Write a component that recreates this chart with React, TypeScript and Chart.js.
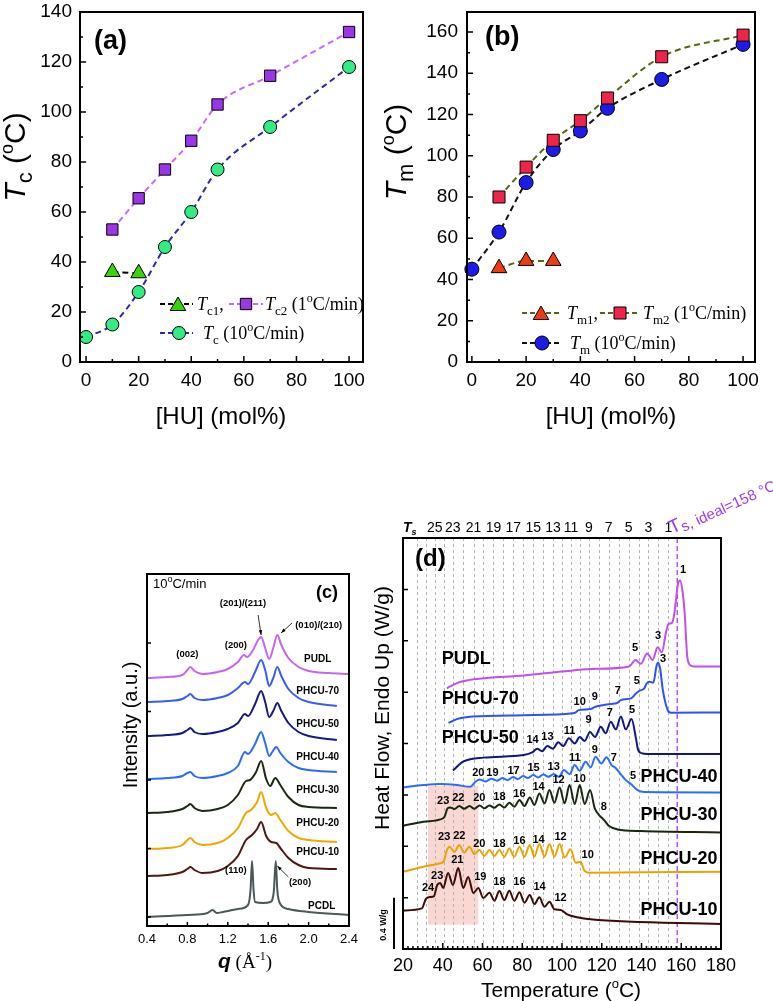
import React, { useEffect, useRef } from "react";
import { Chart, registerables } from "chart.js";

Chart.register(...registerables);

const SANS = "'Liberation Sans', Arial, Helvetica, sans-serif";
const SERIF = "'Liberation Serif', 'Times New Roman', Times, serif";

// ---------- (a) crystallization temperature vs. HU content ----------
const HU_TC1 = [10, 20];
const TC1 = [36, 35.5];
const HU_TC2 = [10, 20, 30, 40, 50, 70, 100];
const TC2 = [53, 65.5, 77, 88.5, 103, 114.5, 132];
const HU_TC = [0, 10, 20, 30, 40, 50, 70, 100];
const TC = [10, 15, 28, 46, 60, 77, 94, 118];

// ---------- (b) melting temperature vs. HU content ----------
const HU_TM1 = [10, 20, 30];
const TM1 = [45.5, 49, 49];
const HU_TM2 = [10, 20, 30, 40, 50, 70, 100];
const TM2 = [80, 94.5, 107.5, 117, 128, 148, 158.5];
const HU_TM = [0, 10, 20, 30, 40, 50, 70, 100];
const TM = [45, 63, 87, 103, 112, 123, 137, 154];

const HU_TICKS = [0, 20, 40, 60, 80, 100];
const HU_MINOR = [10, 30, 50, 70, 90];
const TC_TICKS = [0, 20, 40, 60, 80, 100, 120, 140];
const TM_TICKS = [0, 20, 40, 60, 80, 100, 120, 140, 160];

// ---------- (c) WAXS profiles, q (1/Å) vs. intensity (a.u., stacked) ----------
type Pair = [number, number];
const WAXS_PUDL: Pair[] = [
  [0.4, 248], [0.6, 249], [0.75, 251], [0.8, 256], [0.83, 259], [0.87, 255], [0.95, 252], [1.1, 254],
  [1.2, 257], [1.3, 264], [1.36, 271], [1.39, 269], [1.45, 276], [1.5, 286], [1.53, 289], [1.57, 278],
  [1.61, 267], [1.65, 278], [1.69, 291], [1.73, 281], [1.8, 268], [1.9, 259], [2.0, 255], [2.2, 253], [2.4, 252],
];
const WAXS_70: Pair[] = [
  [0.4, 224], [0.6, 225], [0.75, 227], [0.8, 230], [0.83, 232], [0.87, 228], [0.95, 226], [1.1, 228],
  [1.2, 231], [1.3, 238], [1.37, 244], [1.4, 242], [1.47, 254], [1.53, 266], [1.57, 256], [1.61, 240],
  [1.65, 248], [1.69, 259], [1.73, 250], [1.8, 237], [1.9, 228], [2.0, 224], [2.28, 220],
];
const WAXS_50: Pair[] = [
  [0.4, 190], [0.6, 191], [0.75, 193], [0.8, 196], [0.83, 198], [0.87, 194], [0.95, 192], [1.1, 194],
  [1.2, 197], [1.3, 203], [1.37, 212], [1.4, 210], [1.47, 222], [1.53, 235], [1.57, 224], [1.61, 209],
  [1.65, 215], [1.69, 223], [1.73, 215], [1.8, 203], [1.9, 194], [2.0, 190], [2.28, 186],
];
const WAXS_40: Pair[] = [
  [0.4, 147], [0.6, 148], [0.75, 150], [0.8, 153], [0.83, 154], [0.87, 150], [0.95, 148], [1.1, 150],
  [1.2, 153], [1.3, 160], [1.37, 174], [1.4, 172], [1.47, 182], [1.53, 194], [1.57, 183], [1.61, 170],
  [1.64, 174], [1.68, 179], [1.72, 173], [1.8, 164], [1.9, 158], [2.0, 156], [2.28, 154],
];
const WAXS_30: Pair[] = [
  [0.4, 113], [0.6, 114], [0.75, 117], [0.8, 120], [0.83, 122], [0.87, 118], [0.95, 115], [1.1, 117],
  [1.2, 121], [1.3, 131], [1.38, 145], [1.42, 146], [1.48, 154], [1.53, 165], [1.58, 147], [1.62, 140],
  [1.67, 148], [1.72, 141], [1.8, 129], [1.9, 121], [2.0, 119], [2.28, 118],
];
const WAXS_20: Pair[] = [
  [0.4, 77], [0.6, 78], [0.75, 81], [0.8, 86], [0.83, 88], [0.87, 84], [0.95, 81], [1.1, 83],
  [1.2, 88], [1.3, 98], [1.38, 113], [1.43, 116], [1.49, 124], [1.53, 134], [1.58, 118], [1.63, 111],
  [1.67, 113], [1.72, 106], [1.8, 95], [1.9, 88], [2.0, 86], [2.28, 84],
];
const WAXS_10: Pair[] = [
  [0.4, 50], [0.6, 51], [0.75, 54], [0.8, 57], [0.83, 59], [0.87, 56], [0.95, 53], [1.1, 55],
  [1.2, 60], [1.3, 70], [1.38, 86], [1.44, 91], [1.49, 97], [1.53, 104], [1.58, 90], [1.63, 84],
  [1.68, 83], [1.72, 78], [1.8, 68], [1.9, 61], [2.0, 58], [2.28, 57],
];
const WAXS_PCDL: Pair[] = [
  [0.4, 9], [0.8, 11], [1.0, 13], [1.05, 16], [1.09, 13], [1.15, 14], [1.2, 15], [1.3, 17], [1.4, 21],
  [1.425, 36], [1.44, 65], [1.455, 36], [1.47, 24], [1.55, 23], [1.62, 24], [1.655, 34], [1.675, 65],
  [1.69, 36], [1.72, 22], [1.8, 17], [2.0, 14], [2.4, 11],
];
const Q_TICKS = [0.4, 0.8, 1.2, 1.6, 2.0, 2.4];
const Q_MINOR = [0.6, 1.0, 1.4, 1.8, 2.2];
const INT_TICKS = [9, 77.5, 146, 214.5, 283];

// ---------- (d) DSC heating traces, temperature (°C) vs. heat flow (W/g, offset) ----------
const DSC_PUDL: Pair[] = [
  [42.1, 2.03], [47.1, 2.07], [55.5, 2.1], [80.8, 2.13], [100, 2.16], [114.5, 2.18], [133.8, 2.2],
  [137.0, 2.25], [139.7, 2.22], [142.8, 2.3], [145.6, 2.25], [148.1, 2.35], [150.2, 2.31], [152.5, 2.48],
  [153.6, 2.53], [155.4, 2.54], [156.6, 2.62], [158.3, 2.84], [159.4, 2.87], [160.5, 2.8], [161.7, 2.62],
  [163.0, 2.28], [164.5, 2.21], [166.5, 2.2], [180, 2.2],
];
const DSC_70: Pair[] = [
  [42.9, 1.76], [47.1, 1.79], [55, 1.81], [80.8, 1.82], [105.5, 1.835], [106.7, 1.84], [108.4, 1.86],
  [114.3, 1.868], [116.8, 1.886], [124.5, 1.907], [127.9, 1.917], [129.6, 1.938], [134.7, 1.951],
  [137.2, 1.989], [138.9, 2.01], [141.4, 2.03], [142.5, 2.065], [144.0, 2.08], [146.0, 2.075],
  [147.5, 2.2], [148.3, 2.23], [149.4, 2.18], [150.7, 2.02], [153.2, 1.86], [154.9, 1.84], [180, 1.842],
];
const DSC_50: Pair[] = [
  [45.1, 1.39], [50.5, 1.46], [60.6, 1.49], [80.8, 1.51], [85.0, 1.53], [87.5, 1.56], [90.0, 1.54],
  [92.6, 1.58], [95.4, 1.56], [98.1, 1.61], [100.6, 1.58], [103.5, 1.64], [106.4, 1.6], [108.9, 1.65],
  [111.4, 1.62], [114.1, 1.69], [116.6, 1.65], [119.5, 1.73], [122.0, 1.68], [124.5, 1.77], [127.1, 1.71],
  [129.6, 1.81], [132.1, 1.71], [135.0, 1.79], [137.2, 1.64], [138.3, 1.55], [140.0, 1.525], [143, 1.518],
  [180, 1.518],
];
const DSC_40: Pair[] = [
  [20.2, 1.258], [30.3, 1.276], [38.7, 1.284], [47.1, 1.276], [53.8, 1.263], [56.4, 1.302], [58.6, 1.32],
  [61.4, 1.305], [64.5, 1.326], [67.3, 1.31], [70.0, 1.331], [72.7, 1.315], [75.4, 1.339], [77.9, 1.323],
  [80.4, 1.346], [82.9, 1.331], [85.5, 1.354], [88.0, 1.336], [90.5, 1.359], [93.2, 1.341], [95.9, 1.362],
  [98.4, 1.341], [101.0, 1.393], [103.8, 1.362], [106.4, 1.432], [108.9, 1.388], [111.9, 1.458],
  [114.4, 1.414], [116.9, 1.497], [119.7, 1.445], [122.4, 1.492], [125.0, 1.43], [127.0, 1.41],
  [129.6, 1.36], [132.1, 1.315], [134.7, 1.284], [138.0, 1.237], [141.4, 1.222], [180, 1.219],
];
const DSC_30: Pair[] = [
  [20.2, 0.96], [30.3, 0.991], [38.7, 1.009], [40.9, 1.03], [42.4, 1.095], [43.7, 1.102], [45.9, 1.09],
  [48.3, 1.113], [50.8, 1.092], [53.5, 1.113], [55.9, 1.092], [58.6, 1.118], [60.9, 1.095], [63.5, 1.118],
  [66.0, 1.1], [68.5, 1.126], [71.0, 1.102], [73.5, 1.139], [76.0, 1.108], [78.6, 1.16], [81.1, 1.113],
  [83.8, 1.18], [86.1, 1.121], [88.6, 1.211], [91.2, 1.134], [93.7, 1.237], [96.2, 1.139], [98.8, 1.258],
  [101.3, 1.134], [103.8, 1.276], [106.4, 1.128], [108.9, 1.276], [111.4, 1.128], [114.1, 1.237],
  [116.5, 1.095], [118.7, 1.043], [121.2, 1.004], [123.7, 0.957], [127.9, 0.931], [139.7, 0.918], [180, 0.908],
];
const DSC_20: Pair[] = [
  [20.2, 0.602], [30.3, 0.641], [38.7, 0.667], [40.4, 0.68], [42.1, 0.77], [43.4, 0.796], [45.8, 0.757],
  [48.3, 0.809], [50.8, 0.75], [53.4, 0.796], [55.9, 0.739], [58.4, 0.77], [60.9, 0.724], [63.5, 0.77],
  [66.0, 0.724], [68.5, 0.77], [71.0, 0.719], [73.5, 0.783], [76.0, 0.719], [78.6, 0.796], [81.1, 0.719],
  [83.8, 0.809], [86.1, 0.719], [88.6, 0.817], [91.2, 0.719], [93.7, 0.817], [96.2, 0.719], [98.8, 0.817],
  [101.3, 0.713], [104.3, 0.776], [106.9, 0.672], [109.4, 0.68], [111.1, 0.615], [113.6, 0.594], [180, 0.602],
];
const DSC_10: Pair[] = [
  [20.2, 0.3], [29.5, 0.316], [31.5, 0.39], [33.6, 0.405], [35.5, 0.41], [37.2, 0.498], [38.7, 0.514],
  [40.2, 0.475], [42.7, 0.591], [45.1, 0.498], [47.8, 0.63], [50.3, 0.475], [52.8, 0.56], [55.4, 0.436],
  [57.9, 0.475], [60.4, 0.397], [63.5, 0.438], [66.0, 0.376], [68.5, 0.451], [71.0, 0.381], [73.5, 0.454],
  [76.0, 0.376], [78.6, 0.441], [81.1, 0.36], [83.8, 0.42], [86.1, 0.35], [88.6, 0.402], [91.2, 0.329],
  [93.7, 0.368], [96.2, 0.309], [99.3, 0.304], [102.6, 0.27], [107.7, 0.247], [114.3, 0.231], [180, 0.195],
];
// Ts for stem length n = 1, 2, 3, ...
const TS_T = [153.5, 148.5, 143.5, 138.5, 133.5, 128.5, 123.5, 118.5, 113.5, 109, 104.5, 100, 95.5, 90.5,
  85.5, 80.5, 75.5, 70.5, 65.5, 60.5, 55.5, 50, 45, 40.5, 36, 31.5, 27];
const TS_IDEAL = 158;
const T_TICKS = [20, 40, 60, 80, 100, 120, 140, 160, 180];
const HF_TICKS = [0, 0.4, 0.8, 1.2, 1.6, 2.0, 2.4, 2.8, 3.2];
const SHADE_T = [32.6, 57.9];
const SHADE_W = [0.19, 1.27];

// peak index labels (T, W, n)
const PEAK_LABELS: [number, number, string][] = [
  [160.9, 2.95, "1"], [148.3, 2.44, "3"], [136.7, 2.34, "5"],
  [108.9, 1.92, "10"], [116.5, 1.96, "9"], [128.1, 2.01, "7"], [137.7, 2.09, "5"], [150.8, 2.26, "3"],
  [85.2, 1.63, "14"], [92.7, 1.65, "13"], [103.8, 1.7, "11"], [113.4, 1.78, "9"], [124, 1.84, "7"], [135.2, 1.86, "5"],
  [57.9, 1.37, "20"], [65, 1.37, "19"], [75.6, 1.385, "17"], [85.7, 1.41, "15"], [95.8, 1.42, "13"],
  [106.4, 1.49, "11"], [116.5, 1.55, "9"], [126.1, 1.49, "7"], [135.7, 1.35, "5"],
  [40.2, 1.15, "23"], [47.8, 1.175, "22"], [58.4, 1.175, "20"], [68.5, 1.18, "18"], [78.6, 1.21, "16"],
  [88.2, 1.26, "14"], [98.3, 1.315, "12"], [108.9, 1.32, "10"], [121, 1.105, "8"],
  [40.7, 0.87, "23"], [48.3, 0.88, "22"], [58.4, 0.82, "20"], [68.5, 0.82, "18"], [78.6, 0.84, "16"],
  [88.2, 0.85, "14"], [99.3, 0.87, "12"], [112.9, 0.73, "10"],
  [32.6, 0.475, "24"], [37.2, 0.57, "23"], [47.3, 0.69, "21"], [58.9, 0.56, "19"], [68.5, 0.52, "18"],
  [78.6, 0.52, "16"], [88.7, 0.48, "14"], [99.3, 0.4, "12"],
];
const DSC_NAMES: [number, number, string][] = [
  [51.8, 2.26, "PUDL"], [58.9, 1.95, "PHCU-70"], [58.9, 1.64, "PHCU-50"], [158.9, 1.34, "PHCU-40"],
  [158.9, 1.04, "PHCU-30"], [158.9, 0.7, "PHCU-20"], [158.9, 0.3, "PHCU-10"],
];
const WAXS_NAMES: [number, number, string][] = [
  [2.09, 267, "PUDL"], [2.09, 235, "PHCU-70"], [2.09, 202, "PHCU-50"], [2.09, 169, "PHCU-40"],
  [2.09, 136, "PHCU-30"], [2.09, 103, "PHCU-20"], [2.09, 74, "PHCU-10"], [2.13, 20, "PCDL"],
];
const WAXS_PEAKS: [number, number, string][] = [
  [0.8, 272, "(002)"], [1.28, 281, "(200)"], [1.35, 323, "(201)/(211)"], [2.1, 301, "(010)/(210)"],
  [1.28, 56, "(110)"], [1.915, 44, "(200)"],
];
const WAXS_ARROWS: [number, number, number, number][] = [
  [1.5, 311, 1.53, 291], [1.836, 303, 1.727, 293], [1.8, 49, 1.69, 60],
];

// ---------- drawing helpers ----------
type Seg = [string, string, number?];
const xy = (xs: number[], ys: number[]) => xs.map((x, i) => ({ x, y: ys[i] }));
const pts = (p: Pair[]) => p.map(([x, y]) => ({ x, y }));

function rich(ctx: CanvasRenderingContext2D, segs: Seg[], x: number, y: number, align = "left", rot = 0, color = "#000") {
  ctx.save();
  ctx.translate(x, y);
  if (rot) ctx.rotate(rot);
  ctx.fillStyle = color;
  ctx.textBaseline = "alphabetic";
  ctx.textAlign = "left";
  let w = 0;
  for (const s of segs) { ctx.font = s[1]; w += ctx.measureText(s[0]).width; }
  let cx = align === "center" ? -w / 2 : align === "right" ? -w : 0;
  for (const s of segs) { ctx.font = s[1]; ctx.fillText(s[0], cx, s[2] || 0); cx += ctx.measureText(s[0]).width; }
  ctx.restore();
}

function frame(chart: any, lw = 2) {
  const { ctx, chartArea: a } = chart;
  ctx.save();
  ctx.strokeStyle = "#000";
  ctx.lineWidth = lw;
  ctx.strokeRect(a.left, a.top, a.right - a.left, a.bottom - a.top);
  ctx.restore();
}

function ticksX(chart: any, vals: number[], len: number, lw = 1.5) {
  const { ctx, chartArea: a, scales } = chart;
  ctx.save();
  ctx.strokeStyle = "#000";
  ctx.lineWidth = lw;
  ctx.beginPath();
  for (const v of vals) {
    const x = scales.x.getPixelForValue(v);
    ctx.moveTo(x, a.bottom);
    ctx.lineTo(x, a.bottom - len);
  }
  ctx.stroke();
  ctx.restore();
}

function ticksY(chart: any, vals: number[], len: number, lw = 1.5) {
  const { ctx, chartArea: a, scales } = chart;
  ctx.save();
  ctx.strokeStyle = "#000";
  ctx.lineWidth = lw;
  ctx.beginPath();
  for (const v of vals) {
    const y = scales.y.getPixelForValue(v);
    ctx.moveTo(a.left, y);
    ctx.lineTo(a.left + len, y);
  }
  ctx.stroke();
  ctx.restore();
}

function marker(ctx: CanvasRenderingContext2D, kind: string, x: number, y: number, r: number, fill: string) {
  ctx.save();
  ctx.fillStyle = fill;
  ctx.strokeStyle = "#000";
  ctx.lineWidth = 1;
  ctx.beginPath();
  if (kind === "circle") ctx.arc(x, y, r, 0, Math.PI * 2);
  else if (kind === "rect") { const s = r * Math.SQRT1_2; ctx.rect(x - s, y - s, 2 * s, 2 * s); }
  else {
    for (let k = 0; k < 3; k++) {
      const ang = (k * 2 * Math.PI) / 3;
      const px = x + Math.sin(ang) * r, py = y - Math.cos(ang) * r;
      if (k) ctx.lineTo(px, py); else ctx.moveTo(px, py);
    }
    ctx.closePath();
  }
  ctx.fill();
  ctx.stroke();
  ctx.restore();
}

function dashLine(ctx: CanvasRenderingContext2D, x1: number, x2: number, y: number, color: string) {
  ctx.save();
  ctx.strokeStyle = color;
  ctx.lineWidth = 2;
  ctx.setLineDash([5, 3]);
  ctx.beginPath();
  ctx.moveTo(x1, y);
  ctx.lineTo(x2, y);
  ctx.stroke();
  ctx.restore();
}

function arrow(ctx: CanvasRenderingContext2D, x1: number, y1: number, x2: number, y2: number) {
  const ang = Math.atan2(y2 - y1, x2 - x1);
  ctx.save();
  ctx.strokeStyle = "#000";
  ctx.fillStyle = "#000";
  ctx.lineWidth = 0.8;
  ctx.beginPath();
  ctx.moveTo(x1, y1);
  ctx.lineTo(x2, y2);
  ctx.stroke();
  ctx.beginPath();
  ctx.moveTo(x2, y2);
  ctx.lineTo(x2 - 5 * Math.cos(ang - 0.35), y2 - 5 * Math.sin(ang - 0.35));
  ctx.lineTo(x2 - 5 * Math.cos(ang + 0.35), y2 - 5 * Math.sin(ang + 0.35));
  ctx.closePath();
  ctx.fill();
  ctx.restore();
}

type Area = { l: number; t: number; r: number; b: number; w: number; h: number };

function axes(area: Area, x: any, y: any) {
  const fixTicks = (vals: number[]) => (s: any) => { s.ticks = vals.map((v) => ({ value: v })); };
  return {
    x: {
      type: "linear",
      min: x.min,
      max: x.max,
      afterBuildTicks: fixTicks(x.ticks),
      afterFit: (s: any) => { s.height = area.h - area.b; s.paddingLeft = 0; s.paddingRight = 0; },
      grid: { display: false, drawTicks: false },
      border: { display: false },
      ticks: {
        display: x.labels !== false,
        font: { family: SANS, size: x.size },
        color: "#000",
        padding: x.pad,
        maxRotation: 0,
        autoSkip: false,
        callback: x.fmt || ((v: number) => String(v)),
      },
    },
    y: {
      type: "linear",
      min: y.min,
      max: y.max,
      afterBuildTicks: fixTicks(y.ticks),
      afterFit: (s: any) => { s.width = area.l; s.paddingTop = 0; s.paddingBottom = 0; },
      grid: { display: false, drawTicks: false },
      border: { display: false },
      ticks: {
        display: y.labels !== false,
        font: { family: SANS, size: y.size || 12 },
        color: "#000",
        padding: y.pad || 0,
        autoSkip: false,
        callback: (v: number) => String(v),
      },
    },
  };
}

function baseOptions(area: Area, scales: any) {
  return {
    responsive: false,
    animation: false,
    devicePixelRatio: 1,
    events: [],
    layout: { padding: { left: 0, top: area.t, right: area.w - area.r, bottom: 0 } },
    plugins: { legend: { display: false }, tooltip: { enabled: false }, title: { display: false } },
    scales,
  };
}

const markerSet = (style: string, r: number, fill: string) => ({
  pointStyle: style,
  pointRadius: r,
  pointBackgroundColor: fill,
  pointBorderColor: "#000",
  pointBorderWidth: 1,
});
const dashed = (color: string) => ({
  borderColor: color,
  borderWidth: 2,
  borderDash: [6, 4],
  cubicInterpolationMode: "monotone",
  clip: false,
});
const trace = (data: Pair[], color: string, width = 2) => ({
  data: pts(data),
  borderColor: color,
  borderWidth: width,
  pointRadius: 0,
  cubicInterpolationMode: "monotone",
});

// ---------- panel (a) ----------
const AREA_A: Area = { l: 80, t: 12, r: 363, b: 362, w: 390, h: 440 };
function configA() {
  return {
    type: "line",
    data: {
      datasets: [
        { data: xy(HU_TC1, TC1), ...dashed("#000"), ...markerSet("triangle", 9, "#3ad20a") },
        { data: xy(HU_TC2, TC2), ...dashed("#c86af5"), ...markerSet("rect", 8, "#9a36e8") },
        { data: xy(HU_TC, TC), ...dashed("#2a2aa8"), ...markerSet("circle", 6.5, "#34ec84") },
      ],
    },
    options: baseOptions(AREA_A, axes(AREA_A,
      { min: -2.3, max: 105.3, ticks: HU_TICKS, size: 19, pad: 7 },
      { min: 0, max: 140, ticks: TC_TICKS, size: 19, pad: 8 })),
    plugins: [{
      id: "decorA",
      afterDraw(chart: any) {
        const ctx = chart.ctx;
        frame(chart);
        ticksX(chart, HU_TICKS, 6);
        ticksX(chart, HU_MINOR, 3);
        ticksY(chart, TC_TICKS, 6);
        ticksY(chart, [10, 30, 50, 70, 90, 110, 130], 3);
        rich(ctx, [["(a)", `bold 27px ${SANS}`]], 94, 49);
        rich(ctx, [["T", `italic 30px ${SANS}`], ["c", `22px ${SANS}`, 7], [" (", `30px ${SANS}`], ["o", `18px ${SANS}`, -12], ["C)", `30px ${SANS}`]], 25, 157, "center", -Math.PI / 2);
        rich(ctx, [["[HU] (mol%)", `24px ${SANS}`]], 221, 424, "center");
        // legend
        const big = `18px ${SERIF}`, it = `italic 18px ${SERIF}`, sub = `13px ${SERIF}`, sup = `12px ${SERIF}`;
        dashLine(ctx, 160, 193, 304, "#000");
        marker(ctx, "triangle", 178, 306, 9, "#3ad20a");
        rich(ctx, [["T", it], ["c1", sub, 5], [",", big]], 197, 310);
        dashLine(ctx, 229, 263, 304, "#c86af5");
        marker(ctx, "rect", 246, 304, 8, "#9a36e8");
        rich(ctx, [["T", it], ["c2", sub, 5], [" (1", big], ["o", sup, -8], ["C/min)", big]], 265, 310);
        dashLine(ctx, 160, 193, 333, "#2a2aa8");
        marker(ctx, "circle", 179, 333, 6.5, "#34ec84");
        rich(ctx, [["T", it], ["c", sub, 5], [" (10", big], ["o", sup, -8], ["C/min)", big]], 203, 339);
      },
    }],
  };
}

// ---------- panel (b) ----------
const AREA_B: Area = { l: 92, t: 12, r: 380, b: 362, w: 398, h: 440 };
function configB() {
  return {
    type: "line",
    data: {
      datasets: [
        { data: xy(HU_TM1, TM1), ...dashed("#4f6a12"), ...markerSet("triangle", 9, "#f03a10") },
        { data: xy(HU_TM2, TM2), ...dashed("#4f6a12"), ...markerSet("rect", 8.5, "#ee2448") },
        { data: xy(HU_TM, TM), ...dashed("#111"), ...markerSet("circle", 7, "#1c1ce8") },
      ],
    },
    options: baseOptions(AREA_B, axes(AREA_B,
      { min: -1.8, max: 104.4, ticks: HU_TICKS, size: 19, pad: 7 },
      { min: 0, max: 169.7, ticks: TM_TICKS, size: 19, pad: 9 })),
    plugins: [{
      id: "decorB",
      afterDraw(chart: any) {
        const ctx = chart.ctx;
        const o = 375;
        frame(chart);
        ticksX(chart, HU_TICKS, 6);
        ticksX(chart, HU_MINOR, 3);
        ticksY(chart, TM_TICKS, 6);
        ticksY(chart, [10, 30, 50, 70, 90, 110, 130, 150], 3);
        rich(ctx, [["(b)", `bold 27px ${SANS}`]], 485 - o, 45);
        rich(ctx, [["T", `italic 30px ${SANS}`], ["m", `22px ${SANS}`, 7], [" (", `30px ${SANS}`], ["o", `18px ${SANS}`, -12], ["C)", `30px ${SANS}`]], 406 - o, 152, "center", -Math.PI / 2);
        rich(ctx, [["[HU] (mol%)", `24px ${SANS}`]], 611 - o, 424, "center");
        const big = `18px ${SERIF}`, it = `italic 18px ${SERIF}`, sub = `13px ${SERIF}`, sup = `12px ${SERIF}`;
        dashLine(ctx, 522 - o, 560 - o, 313, "#4f6a12");
        marker(ctx, "triangle", 541 - o, 315, 9, "#f03a10");
        rich(ctx, [["T", it], ["m1", sub, 5], [",", big]], 567 - o, 319);
        dashLine(ctx, 600 - o, 640 - o, 313, "#4f6a12");
        marker(ctx, "rect", 620 - o, 313, 8.5, "#ee2448");
        rich(ctx, [["T", it], ["m2", sub, 5], [" (1", big], ["o", sup, -8], ["C/min)", big]], 643 - o, 319);
        dashLine(ctx, 522 - o, 560 - o, 343, "#111");
        marker(ctx, "circle", 542 - o, 343, 7, "#1c1ce8");
        rich(ctx, [["T", it], ["m", sub, 5], [" (10", big], ["o", sup, -8], ["C/min)", big]], 570 - o, 349);
      },
    }],
  };
}

// ---------- panel (c) ----------
const AREA_C: Area = { l: 47, t: 14, r: 249, b: 366, w: 260, h: 420 };
function configC() {
  return {
    type: "line",
    data: {
      datasets: [
        trace(WAXS_PUDL, "#c466f0"),
        trace(WAXS_70, "#3a5cf5"),
        trace(WAXS_50, "#141c80"),
        trace(WAXS_40, "#2c6cf5"),
        trace(WAXS_30, "#1a2a12"),
        trace(WAXS_20, "#eea800"),
        trace(WAXS_10, "#4a1a12"),
        trace(WAXS_PCDL, "#4a5858"),
      ],
    },
    options: baseOptions(AREA_C, axes(AREA_C,
      { min: 0.4, max: 2.4, ticks: Q_TICKS, size: 13, pad: 6, fmt: (v: number) => v.toFixed(1) },
      { min: 0, max: 352, ticks: INT_TICKS, labels: false })),
    plugins: [{
      id: "decorC",
      afterDraw(chart: any) {
        const ctx = chart.ctx;
        const { x: xs, y: ys } = chart.scales;
        const ox = 100, oy = 560;
        frame(chart, 2);
        ticksX(chart, Q_TICKS, 4);
        ticksX(chart, Q_MINOR, 2.5);
        ticksY(chart, INT_TICKS, 4);
        rich(ctx, [["10", `13px ${SANS}`], ["o", `9px ${SANS}`, -6], ["C/min", `13px ${SANS}`]], 153 - ox, 588 - oy);
        rich(ctx, [["(c)", `bold 18px ${SANS}`]], 327 - ox, 598 - oy, "center");
        ctx.save();
        ctx.textAlign = "center";
        ctx.textBaseline = "middle";
        ctx.fillStyle = "#000";
        ctx.font = `bold 9.5px ${SANS}`;
        for (const [q, v, s] of WAXS_PEAKS) ctx.fillText(s, xs.getPixelForValue(q), ys.getPixelForValue(v));
        ctx.font = `bold 10px ${SANS}`;
        for (const [q, v, s] of WAXS_NAMES) ctx.fillText(s, xs.getPixelForValue(q), ys.getPixelForValue(v));
        ctx.restore();
        for (const [q1, v1, q2, v2] of WAXS_ARROWS)
          arrow(ctx, xs.getPixelForValue(q1), ys.getPixelForValue(v1), xs.getPixelForValue(q2), ys.getPixelForValue(v2));
        rich(ctx, [["Intensity (a.u.)", `20px ${SANS}`]], 137 - ox, 725 - oy, "center", -Math.PI / 2);
        rich(ctx, [["q", `italic bold 21px ${SANS}`], [" (Å", `19px ${SERIF}`], ["-1", `12px ${SERIF}`, -8], [")", `19px ${SERIF}`]], 245 - ox, 968 - oy, "center");
      },
    }],
  };
}

// ---------- panel (d) ----------
const AREA_D: Area = { l: 43, t: 78, r: 361, b: 489, w: 413, h: 541 };
function configD() {
  return {
    type: "line",
    data: {
      datasets: [
        trace(DSC_PUDL, "#c050f0"),
        trace(DSC_70, "#3050ff"),
        trace(DSC_50, "#101880"),
        trace(DSC_40, "#2a6cff"),
        trace(DSC_30, "#18280e"),
        trace(DSC_20, "#e8a400"),
        trace(DSC_10, "#3c0c06"),
      ],
    },
    options: baseOptions(AREA_D, axes(AREA_D,
      { min: 20, max: 180, ticks: T_TICKS, size: 18, pad: 6 },
      { min: 0, max: 3.2, ticks: HF_TICKS, labels: false })),
    plugins: [{
      id: "decorD",
      beforeDatasetsDraw(chart: any) {
        const ctx = chart.ctx;
        const { chartArea: a } = chart;
        const { x: xs, y: ys } = chart.scales;
        ctx.save();
        ctx.fillStyle = "rgba(240, 160, 150, 0.42)";
        const x1 = xs.getPixelForValue(SHADE_T[0]), x2 = xs.getPixelForValue(SHADE_T[1]);
        const y1 = ys.getPixelForValue(SHADE_W[1]), y2 = ys.getPixelForValue(SHADE_W[0]);
        ctx.fillRect(x1, y1, x2 - x1, y2 - y1);
        ctx.strokeStyle = "#b4b4b4";
        ctx.lineWidth = 1;
        ctx.setLineDash([3, 3]);
        ctx.beginPath();
        for (const t of TS_T) {
          const x = Math.round(xs.getPixelForValue(t)) + 0.5;
          ctx.moveTo(x, a.top);
          ctx.lineTo(x, a.bottom);
        }
        ctx.stroke();
        ctx.strokeStyle = "#b050ff";
        ctx.lineWidth = 1.5;
        ctx.setLineDash([5, 3]);
        ctx.beginPath();
        const xi = xs.getPixelForValue(TS_IDEAL);
        ctx.moveTo(xi, a.top);
        ctx.lineTo(xi, a.bottom);
        ctx.stroke();
        ctx.restore();
      },
      afterDraw(chart: any) {
        const ctx = chart.ctx;
        const { chartArea: a } = chart;
        const { x: xs, y: ys } = chart.scales;
        const ox = 360, oy = 460;
        frame(chart, 2);
        ticksX(chart, T_TICKS, 6);
        const minor: number[] = [];
        for (let t = 22.5; t < 180; t += 2.5) if (t % 20 !== 0) minor.push(t);
        ticksX(chart, minor, 3);
        ticksY(chart, HF_TICKS, 5);
        // stem-length scale along the top
        ctx.save();
        ctx.fillStyle = "#000";
        ctx.textAlign = "center";
        ctx.textBaseline = "alphabetic";
        ctx.font = `14px ${SANS}`;
        TS_T.forEach((t, i) => {
          const n = i + 1;
          if (n % 2 === 1 && n <= 25) ctx.fillText(String(n), xs.getPixelForValue(t), 532 - oy);
        });
        ctx.restore();
        rich(ctx, [["T", `italic bold 14px ${SANS}`], ["s", `italic bold 9px ${SANS}`, 3]], 403 - ox, 532 - oy);
        rich(ctx, [["T", `19px ${SANS}`], ["s, ideal=158 °C", `15px ${SANS}`, 3]], 672 - ox, 534 - oy, "left", -0.43, "#9a3cf0");
        rich(ctx, [["(d)", `bold 24px ${SANS}`]], 415 - ox, 566 - oy);
        ctx.save();
        ctx.fillStyle = "#000";
        ctx.textAlign = "center";
        ctx.textBaseline = "middle";
        ctx.font = `bold 11px ${SANS}`;
        for (const [t, w, s] of PEAK_LABELS) ctx.fillText(s, xs.getPixelForValue(t), ys.getPixelForValue(w));
        ctx.font = `bold 18px ${SANS}`;
        for (const [t, w, s] of DSC_NAMES) ctx.fillText(s, xs.getPixelForValue(t), ys.getPixelForValue(w));
        ctx.restore();
        rich(ctx, [["Heat Flow, Endo Up (W/g)", `21px ${SANS}`]], 389 - ox, 708 - oy, "center", -Math.PI / 2);
        // 0.4 W/g scale bar
        ctx.save();
        ctx.strokeStyle = "#000";
        ctx.lineWidth = 2;
        ctx.beginPath();
        ctx.moveTo(a.left - 9, ys.getPixelForValue(0));
        ctx.lineTo(a.left - 9, ys.getPixelForValue(0.4));
        ctx.stroke();
        ctx.restore();
        rich(ctx, [["0.4 W/g", `bold 9px ${SANS}`]], 386 - ox, 925 - oy, "center", -Math.PI / 2);
        rich(ctx, [["Temperature (", `21px ${SANS}`], ["o", `13px ${SANS}`, -9], ["C)", `21px ${SANS}`]], 561 - ox, 997 - oy, "center");
      },
    }],
  };
}

function Panel({ x, y, w, h, make }: { x: number; y: number; w: number; h: number; make: () => any }) {
  const ref = useRef<HTMLCanvasElement>(null);
  useEffect(() => {
    const chart = new Chart(ref.current as HTMLCanvasElement, make());
    return () => chart.destroy();
  }, []);
  return (
    <canvas ref={ref} width={w} height={h}
      style={{ position: "absolute", left: x, top: y, width: w, height: h }} />
  );
}

export default function App() {
  return (
    <div style={{ position: "absolute", left: 0, top: 0, width: 773, height: 1001, background: "#fff", overflow: "hidden" }}>
      <Panel x={0} y={0} w={390} h={440} make={configA} />
      <Panel x={375} y={0} w={398} h={440} make={configB} />
      <Panel x={100} y={560} w={260} h={420} make={configC} />
      <Panel x={360} y={460} w={413} h={541} make={configD} />
    </div>
  );
}
